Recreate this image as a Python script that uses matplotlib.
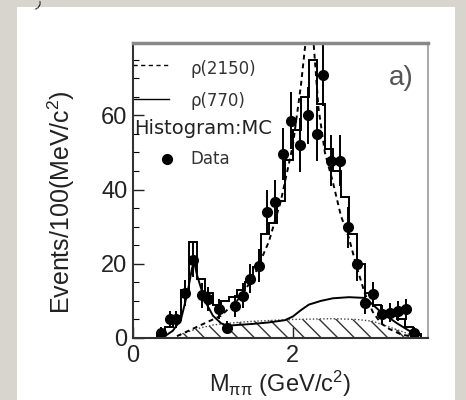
import matplotlib
matplotlib.use("Agg")
import matplotlib.pyplot as plt
from matplotlib.patches import Rectangle
import numpy as np

plt.rcParams['font.family'] = ['Liberation Sans', 'DejaVu Sans']
plt.rcParams['mathtext.fontset'] = 'custom'
plt.rcParams['mathtext.rm'] = 'Liberation Sans'
plt.rcParams['mathtext.it'] = 'Liberation Sans'
plt.rcParams['hatch.linewidth'] = 1.0

# Data points (M_pipi in GeV/c^2, events per 100 MeV, error)
data_x = [0.35, 0.46, 0.54, 0.65, 0.75, 0.86, 0.94, 1.07, 1.17, 1.27, 1.38,
          1.46, 1.57, 1.67, 1.78, 1.88, 1.98, 2.09, 2.19, 2.30, 2.38, 2.48,
          2.59, 2.69, 2.80, 2.90, 3.00, 3.11, 3.21, 3.32, 3.42, 3.52]
data_y = [1.4, 5.0, 5.0, 12.0, 21.0, 11.5, 10.5, 7.8, 2.8, 8.6, 11.4,
          16.0, 19.5, 34.0, 36.6, 49.6, 58.6, 52.0, 60.0, 55.0, 70.8, 47.8,
          47.8, 29.8, 19.9, 9.5, 11.8, 6.4, 6.8, 7.3, 7.7, 1.4]
data_err = [1.5, 2.2, 2.2, 3.5, 4.5, 3.4, 3.2, 2.8, 1.7, 2.9, 3.4,
            4.0, 4.4, 5.8, 6.0, 7.0, 7.7, 7.2, 7.7, 7.4, 8.4, 6.9,
            6.9, 5.5, 4.5, 3.1, 3.4, 2.5, 2.6, 2.7, 2.8, 1.5]

# MC histogram (bin edges and contents)
mc_edges = [0.30, 0.40, 0.50, 0.60, 0.70, 0.80, 0.90, 1.00, 1.10, 1.20, 1.30,
            1.40, 1.50, 1.60, 1.70, 1.80, 1.90, 2.00, 2.10, 2.20, 2.30, 2.40,
            2.50, 2.60, 2.70, 2.80, 2.90, 3.00, 3.10, 3.20, 3.30, 3.40, 3.50, 3.60]
mc_vals = [1, 3, 5, 13, 26, 16, 12, 9, 10, 11, 13,
           15, 19, 28, 31, 37, 48, 56, 65, 75, 63, 51,
           45, 38, 28, 20, 12, 9, 7, 6, 5, 3, 1]

# rho(2150) component (dashed)
rho2150_x = [0.55, 0.65, 0.80, 0.95, 1.10, 1.30, 1.50, 1.70, 1.85, 2.00, 2.10,
             2.17, 2.25, 2.32, 2.40, 2.50, 2.60, 2.70, 2.80, 2.90, 3.00, 3.10,
             3.20, 3.35, 3.50]
rho2150_y = [0.5, 1.5, 3.0, 4.5, 6.0, 10.0, 16.0, 26.0, 37.0, 52.0, 68.0,
             82.0, 82.0, 62.0, 50.0, 42.0, 33.0, 27.0, 19.0, 12.0, 7.0, 4.0,
             2.5, 1.0, 0.3]

# rho(770) component (solid)
rho770_x = [0.40, 0.50, 0.60, 0.68, 0.74, 0.77, 0.80, 0.90, 1.00, 1.10, 1.17,
            1.30, 1.50, 1.70, 1.90, 2.00, 2.10, 2.20, 2.35, 2.50, 2.70, 2.90,
            3.00, 3.10, 3.20, 3.30, 3.45, 3.58]
rho770_y = [0.5, 2.0, 5.0, 12.0, 19.0, 20.0, 17.0, 10.0, 6.0, 4.0, 3.3,
            3.5, 3.8, 4.2, 4.8, 5.8, 7.5, 9.0, 10.0, 10.7, 11.0, 10.8,
            9.0, 7.0, 5.5, 4.0, 2.0, 0.8]

# Background (hatched)
bkg_x = [0.55, 0.60, 0.80, 1.00, 1.20, 1.50, 2.00, 2.50, 2.80, 3.00, 3.20, 3.40, 3.55]
bkg_y = [0.0, 1.0, 2.5, 3.5, 4.0, 4.5, 5.0, 5.2, 5.0, 4.5, 3.0, 1.5, 0.0]

fig = plt.figure(figsize=(4.66, 4.0), dpi=100)
fig.patch.set_facecolor('#d8d5cf')
panel = Rectangle((17/466, 0), (455-17)/466, 1 - 7/400,
                  transform=fig.transFigure, facecolor='white',
                  edgecolor='none', zorder=-10)
fig.add_artist(panel)
fig.text(0.082, 0.998, ')', fontsize=8, color='#111', ha='center', va='top',
         rotation=-30)

ax = fig.add_axes([133/466, 1 - 338/400, (428-133)/466, (338-43)/400])
ax.set_zorder(1)
ax.set_xlim(0, 3.69)
ax.set_ylim(0, 79.5)

ax.fill_between(bkg_x, 0, bkg_y, facecolor='none', edgecolor='#333',
                hatch='\\\\', linewidth=0)
ax.plot(bkg_x, bkg_y, linestyle=(0, (1, 1.5)), color='#444', lw=1.0)

ax.stairs(mc_vals, mc_edges, color='black', lw=1.4)
ax.plot(rho2150_x, rho2150_y, color='black', lw=1.4, linestyle=(0, (2.5, 2)))
ax.plot(rho770_x, rho770_y, color='black', lw=1.4)
ax.errorbar(data_x, data_y, yerr=data_err, fmt='o', color='black',
            ms=7, elinewidth=1.4, capsize=0)

# legend drawn as in original
ax.plot([0.0, 0.45], [73.5, 73.5], color='black', lw=1.0, linestyle=(0, (3, 2.5)),
        clip_on=False)
ax.text(0.72, 72.5, 'ρ(2150)', fontsize=12, color='#333', va='center',
        family='DejaVu Sans')
ax.plot([0.0, 0.45], [64.5, 64.5], color='black', lw=1.0)
ax.text(0.72, 64.0, 'ρ(770)', fontsize=12, color='#333', va='center',
        family='DejaVu Sans')
ax.text(0.02, 56.5, 'Histogram:MC', fontsize=14, color='#222', va='center',
        family='DejaVu Sans')
ax.plot([0.42], [48.3], 'o', color='black', ms=7)
ax.text(0.72, 48.3, 'Data', fontsize=12, color='#333', va='center',
        family='DejaVu Sans')
ax.text(3.35, 70.0, 'a)', fontsize=20, color='#555', ha='center', va='center')

ax.set_xticks([0, 2])
ax.set_xticklabels(['0', '2'])
ax.set_yticks([0, 20, 40, 60])
ax.set_yticks(np.arange(0, 80, 5), minor=True)
ax.tick_params(axis='both', which='major', direction='in', length=8, width=1.0,
               labelsize=17, colors='#222', pad=4)
ax.tick_params(axis='x', which='major', pad=5)
ax.tick_params(axis='y', which='minor', direction='in', length=4, width=0.8)
for s in ax.spines.values():
    s.set_linewidth(1.5)
    s.set_color('#333')
ax.spines['top'].set_color('#888')
ax.spines['top'].set_linewidth(2.5)
ax.spines['right'].set_color('#aaa')

ax.set_ylabel('Events/100(MeV/c$^2$)', fontsize=18, color='#222')
ax.yaxis.set_label_coords(-0.19, 0.46)
ax.set_xlabel('M$_{\\pi\\pi}$ (GeV/c$^2$)', fontsize=17, color='#222', labelpad=1)

fig.savefig('out.png', dpi=100, facecolor=fig.get_facecolor())
